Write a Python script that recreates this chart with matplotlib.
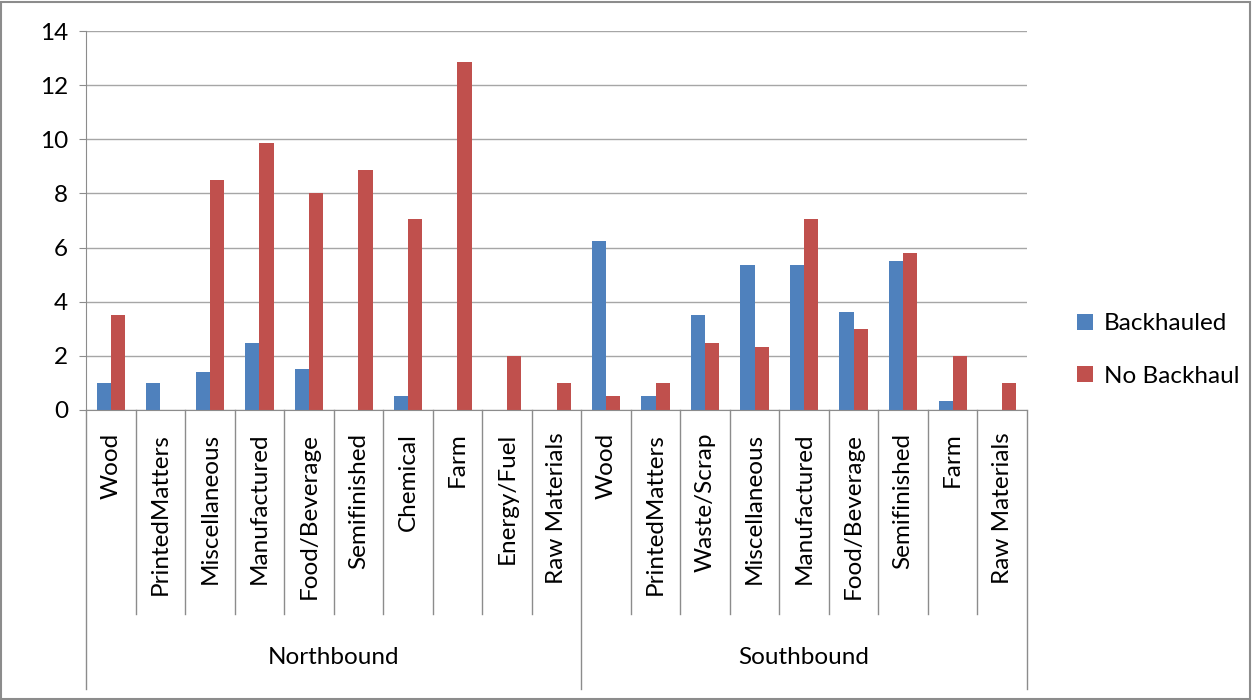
import matplotlib.pyplot as plt
import numpy as np
from matplotlib.patches import Rectangle

plt.rcParams['font.family'] = ['Lato', 'DejaVu Sans']

# Data
groups = ['Northbound', 'Southbound']
north_cats = ['Wood', 'PrintedMatters', 'Miscellaneous', 'Manufactured', 'Food/Beverage',
              'Semifinished', 'Chemical', 'Farm', 'Energy/Fuel', 'Raw Materials']
south_cats = ['Wood', 'PrintedMatters', 'Waste/Scrap', 'Miscellaneous', 'Manufactured',
              'Food/Beverage', 'Semifinished', 'Farm', 'Raw Materials']
backhauled = [1.0, 1.0, 1.4, 2.46, 1.53, 0, 0.53, 0, 0, 0,
              6.26, 0.53, 3.51, 5.35, 5.35, 3.61, 5.51, 0.34, 0]
no_backhaul = [3.5, 0, 8.5, 9.86, 8.01, 8.87, 7.07, 12.85, 2.0, 1.0,
               0.53, 1.0, 2.46, 2.33, 7.06, 2.98, 5.79, 2.0, 1.0]

categories = north_cats + south_cats
n = len(categories)
x = np.arange(n)
w = 0.286
fs = 17.5

fig = plt.figure(figsize=(12.53, 7.0), dpi=100)
ax = fig.add_axes([86 / 1253, 290 / 700, (1027 - 86) / 1253, (410 - 31) / 700])

ax.bar(x - w / 2, backhauled, w, color='#4F81BD', label='Backhauled')
ax.bar(x + w / 2, no_backhaul, w, color='#C0504D', label='No Backhaul')

ax.set_xlim(-0.5, n - 0.5)
ax.set_ylim(0, 14)
ax.set_yticks(np.arange(0, 15, 2))
ax.yaxis.grid(True, color='#A6A6A6', linewidth=1)
ax.set_axisbelow(True)
for s in ['top', 'right']:
    ax.spines[s].set_visible(False)
ax.spines['left'].set_color('#8C8C8C')
ax.spines['bottom'].set_color('#8C8C8C')
ax.tick_params(axis='y', length=5, color='#8C8C8C', labelsize=fs, pad=8)
ax.set_xticks([])

# Category labels and separators below the axis
trans = ax.get_xaxis_transform()
for i, c in enumerate(categories):
    ax.text(i, -0.06, c, rotation=90, ha='center', va='top', fontsize=fs, transform=trans)
for b in np.arange(-0.5, n, 1.0):
    deep = b in (-0.5, len(north_cats) - 0.5, n - 0.5)
    ax.plot([b, b], [0, -0.736 if deep else -0.538], color='#8C8C8C', linewidth=1,
            transform=trans, clip_on=False)

# Group labels
ax.text((len(north_cats) - 1) / 2, -0.652, groups[0], ha='center', va='center',
        fontsize=fs, transform=trans)
ax.text(len(north_cats) + (len(south_cats) - 1) / 2, -0.652, groups[1], ha='center',
        va='center', fontsize=fs, transform=trans)

ax.legend(loc='center left', bbox_to_anchor=(1055 / 1253, 350 / 700), bbox_transform=fig.transFigure,
          frameon=False, fontsize=fs, handlelength=0.65, handleheight=0.65, labelspacing=1.3,
          handletextpad=0.45)

fig.add_artist(Rectangle((0.001, 0.002), 0.997, 0.995, transform=fig.transFigure,
                         fill=False, edgecolor='#8C8C8C', linewidth=1.5))

fig.savefig('out.png', dpi=100)
